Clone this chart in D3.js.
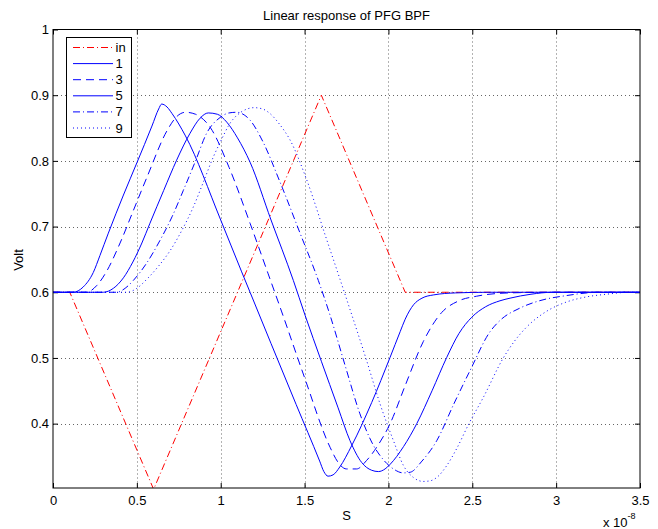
<!DOCTYPE html>
<html lang="en">
<head>
<meta charset="utf-8">
<title>Linear response of PFG BPF</title>
<script src="https://d3js.org/d3.v7.min.js"></script>
<style>
  body { margin: 0; background: #fff; }
  text { font-family: "Liberation Sans", Arial, Helvetica, sans-serif; }
</style>
</head>
<body>
<div id="chart"></div>
<script>
// time in units of 1e-8 s, values in volt
var seriesNames = ["in", "1", "3", "5", "7", "9"];

var sIn = [[0, 0.6], [0.1, 0.6], [0.6, 0.3], [1.6, 0.9], [2.1, 0.6], [3.5, 0.6]];

var s1 = [[0, 0.6], [0.12, 0.6], [0.18, 0.608], [0.24, 0.63], [0.28, 0.656], [0.33, 0.69], [0.42, 0.748],
  [0.5, 0.797], [0.59, 0.853], [0.63, 0.879], [0.648, 0.8865], [0.68, 0.882], [0.71, 0.872], [0.79, 0.838],
  [1.0, 0.71], [1.125, 0.631], [1.175, 0.6], [1.3, 0.522], [1.45, 0.429], [1.59, 0.343], [1.615, 0.327],
  [1.64, 0.32], [1.67, 0.322], [1.71, 0.334], [1.78, 0.366], [1.9, 0.432], [2.01, 0.501], [2.07, 0.54],
  [2.1, 0.559], [2.15, 0.581], [2.2, 0.591], [2.27, 0.596], [2.4, 0.599], [2.6, 0.6], [3.5, 0.6]];

var s3 = [[0, 0.6], [0.2, 0.6], [0.26, 0.61], [0.32, 0.632], [0.4, 0.675], [0.48, 0.725], [0.56, 0.775],
  [0.68, 0.846], [0.74, 0.868], [0.79, 0.874], [0.85, 0.871], [0.94, 0.85], [1.05, 0.79], [1.175, 0.705],
  [1.283, 0.628], [1.364, 0.57], [1.5, 0.47], [1.652, 0.364], [1.7, 0.341], [1.75, 0.331], [1.81, 0.331],
  [1.87, 0.344], [1.94, 0.368], [2.01, 0.4], [2.1, 0.458], [2.208, 0.525], [2.317, 0.569], [2.42, 0.587],
  [2.526, 0.594], [2.72, 0.599], [3.0, 0.6], [3.5, 0.6]];

var s5 = [[0, 0.6], [0.3, 0.6], [0.36, 0.606], [0.42, 0.622], [0.476, 0.646], [0.53, 0.675], [0.578, 0.705],
  [0.66, 0.755], [0.737, 0.801], [0.817, 0.842], [0.877, 0.865], [0.926, 0.873], [0.98, 0.871], [1.036, 0.859],
  [1.1, 0.835], [1.175, 0.798], [1.3, 0.71], [1.433, 0.618], [1.503, 0.565], [1.6, 0.495], [1.7, 0.424],
  [1.771, 0.374], [1.84, 0.341], [1.9, 0.329], [1.94, 0.327], [1.98, 0.331], [2.01, 0.338], [2.09, 0.365],
  [2.169, 0.4], [2.26, 0.45], [2.348, 0.501], [2.42, 0.537], [2.497, 0.562], [2.58, 0.578], [2.665, 0.587],
  [2.725, 0.591], [2.85, 0.597], [2.98, 0.6], [3.5, 0.6]];

var s7 = [[0, 0.6], [0.38, 0.6], [0.43, 0.606], [0.479, 0.618], [0.56, 0.645], [0.638, 0.679], [0.71, 0.715],
  [0.777, 0.755], [0.85, 0.8], [0.916, 0.842], [0.996, 0.866], [1.05, 0.873], [1.095, 0.874], [1.14, 0.87],
  [1.175, 0.862], [1.25, 0.83], [1.35, 0.77], [1.473, 0.69], [1.582, 0.618], [1.652, 0.565], [1.74, 0.49],
  [1.83, 0.415], [1.9, 0.372], [1.97, 0.345], [2.03, 0.331], [2.089, 0.325], [2.13, 0.326], [2.2, 0.343],
  [2.288, 0.374], [2.39, 0.43], [2.487, 0.481], [2.606, 0.54], [2.665, 0.557], [2.785, 0.576], [2.9, 0.587],
  [3.063, 0.595], [3.26, 0.6], [3.5, 0.6]];

var s9 = [[0, 0.6], [0.44, 0.6], [0.5, 0.606], [0.56, 0.62], [0.63, 0.64], [0.7, 0.664], [0.77, 0.695],
  [0.837, 0.73], [0.9, 0.77], [0.956, 0.806], [1.0, 0.83], [1.055, 0.857], [1.12, 0.874], [1.2, 0.881],
  [1.25, 0.879], [1.294, 0.872], [1.35, 0.856], [1.413, 0.832], [1.513, 0.771], [1.632, 0.68], [1.711, 0.62],
  [1.75, 0.59], [1.87, 0.496], [1.95, 0.43], [2.03, 0.374], [2.09, 0.336], [2.149, 0.318], [2.208, 0.312],
  [2.25, 0.313], [2.288, 0.318], [2.35, 0.337], [2.407, 0.362], [2.48, 0.4], [2.566, 0.44], [2.685, 0.5],
  [2.75, 0.525], [2.824, 0.547], [2.943, 0.571], [3.06, 0.585], [3.182, 0.593], [3.3, 0.597], [3.44, 0.6], [3.5, 0.6]];

var xTicks = [0, 0.5, 1, 1.5, 2, 2.5, 3, 3.5];
var yTicks = [0.4, 0.5, 0.6, 0.7, 0.8, 0.9, 1];

var w = 658, h = 529;
var padL = 53, padR = 640, padT = 29.5, padB = 488;
var fs = "13px";

var xScale = d3.scaleLinear().domain([0, 3.5]).range([padL, padR]);
var yScale = d3.scaleLinear().domain([0.302, 1]).range([padB, padT]);

var svg = d3.select("#chart").append("svg")
    .attr("width", w)
    .attr("height", h);

svg.append("defs").append("clipPath")
    .attr("id", "plotclip")
  .append("rect")
    .attr("x", padL).attr("y", padT)
    .attr("width", padR - padL).attr("height", padB - padT);

// grid
var grid = svg.append("g").attr("class", "grid");
grid.selectAll("line.gx")
    .data(xTicks.filter(function(d) { return d > 0 && d < 3.5; }))
  .enter().append("line")
    .attr("x1", function(d) { return Math.round(xScale(d)) + 0.5; })
    .attr("x2", function(d) { return Math.round(xScale(d)) + 0.5; })
    .attr("y1", padT).attr("y2", padB)
    .attr("stroke", "#666").attr("stroke-dasharray", "1,3");
grid.selectAll("line.gy")
    .data(yTicks.filter(function(d) { return d < 1; }))
  .enter().append("line")
    .attr("y1", function(d) { return Math.round(yScale(d)) + 0.5; })
    .attr("y2", function(d) { return Math.round(yScale(d)) + 0.5; })
    .attr("x1", padL).attr("x2", padR)
    .attr("stroke", "#666").attr("stroke-dasharray", "1,3");

// axes, ticks pointing inward like matlab
var xAxis = d3.axisBottom(xScale).tickValues(xTicks).tickSize(-5).tickPadding(8)
    .tickFormat(function(d) { return d3.format("")(d); });
var yAxis = d3.axisLeft(yScale).tickValues(yTicks).tickSize(-5).tickPadding(4)
    .tickFormat(function(d) { return d3.format("")(d); });

svg.append("g").attr("transform", "translate(0," + padB + ")").call(xAxis);
svg.append("g").attr("transform", "translate(" + padL + ",0)").call(yAxis);
svg.append("g").attr("transform", "translate(0," + padT + ")")
    .call(d3.axisTop(xScale).tickValues(xTicks).tickSize(-5).tickFormat(""));
svg.append("g").attr("transform", "translate(" + padR + ",0)")
    .call(d3.axisRight(yScale).tickValues(yTicks).tickSize(-5).tickFormat(""));

svg.selectAll(".domain").remove();
svg.selectAll(".tick line").attr("stroke", "#000");
svg.selectAll(".tick text").attr("font-size", fs).attr("fill", "#000")
    .style("font-family", "'Liberation Sans', Arial, sans-serif");

// series
var styles = [
  { data: sIn, color: "#ff0000", dash: "7,3,1,3" },
  { data: s1, color: "#0000ff", dash: null },
  { data: s3, color: "#0000ff", dash: "8,5" },
  { data: s5, color: "#0000ff", dash: null },
  { data: s7, color: "#0000ff", dash: "7,3,1,3" },
  { data: s9, color: "#0000ff", dash: "1,3" }
];

var line = d3.line()
    .x(function(d) { return xScale(d[0]); })
    .y(function(d) { return yScale(d[1]); })
    .curve(d3.curveMonotoneX);

var lineIn = d3.line()
    .x(function(d) { return xScale(d[0]); })
    .y(function(d) { return yScale(d[1]); });

var plot = svg.append("g").attr("clip-path", "url(#plotclip)");
styles.forEach(function(s, i) {
  plot.append("path")
      .datum(s.data)
      .attr("fill", "none")
      .attr("stroke", s.color)
      .attr("stroke-width", 1)
      .attr("stroke-dasharray", s.dash)
      .attr("d", i === 0 ? lineIn : line);
});

// box
svg.append("rect")
    .attr("x", padL).attr("y", padT)
    .attr("width", padR - padL).attr("height", padB - padT)
    .attr("fill", "none").attr("stroke", "#000").attr("stroke-width", 1);

// legend
var lg = svg.append("g");
lg.append("rect")
    .attr("x", 66.5).attr("y", 37.5).attr("width", 65).attr("height", 100)
    .attr("fill", "#fff").attr("stroke", "#000");
styles.forEach(function(s, i) {
  var yy = 47.5 + i * 16.1;
  lg.append("line")
      .attr("x1", 73).attr("x2", 113).attr("y1", yy).attr("y2", yy)
      .attr("stroke", s.color).attr("stroke-dasharray", s.dash);
  lg.append("text")
      .attr("x", 115.5).attr("y", yy + 4.5)
      .attr("font-size", fs)
      .text(seriesNames[i]);
});

// titles
svg.append("text")
    .attr("x", (padL + padR) / 2).attr("y", 19.5)
    .attr("text-anchor", "middle").attr("font-size", fs)
    .text("Linear response of PFG BPF");

svg.append("text")
    .attr("x", (padL + padR) / 2).attr("y", 520)
    .attr("text-anchor", "middle").attr("font-size", fs)
    .text("S");

svg.append("text")
    .attr("transform", "rotate(-90)")
    .attr("x", -260).attr("y", 23)
    .attr("text-anchor", "middle").attr("font-size", fs)
    .text("Volt");

var ex = svg.append("text")
    .attr("x", 603).attr("y", 527).attr("font-size", fs);
ex.append("tspan").text("x 10");
ex.append("tspan").attr("dy", -8).attr("font-size", "9px").text("-8");
</script>
</body>
</html>
